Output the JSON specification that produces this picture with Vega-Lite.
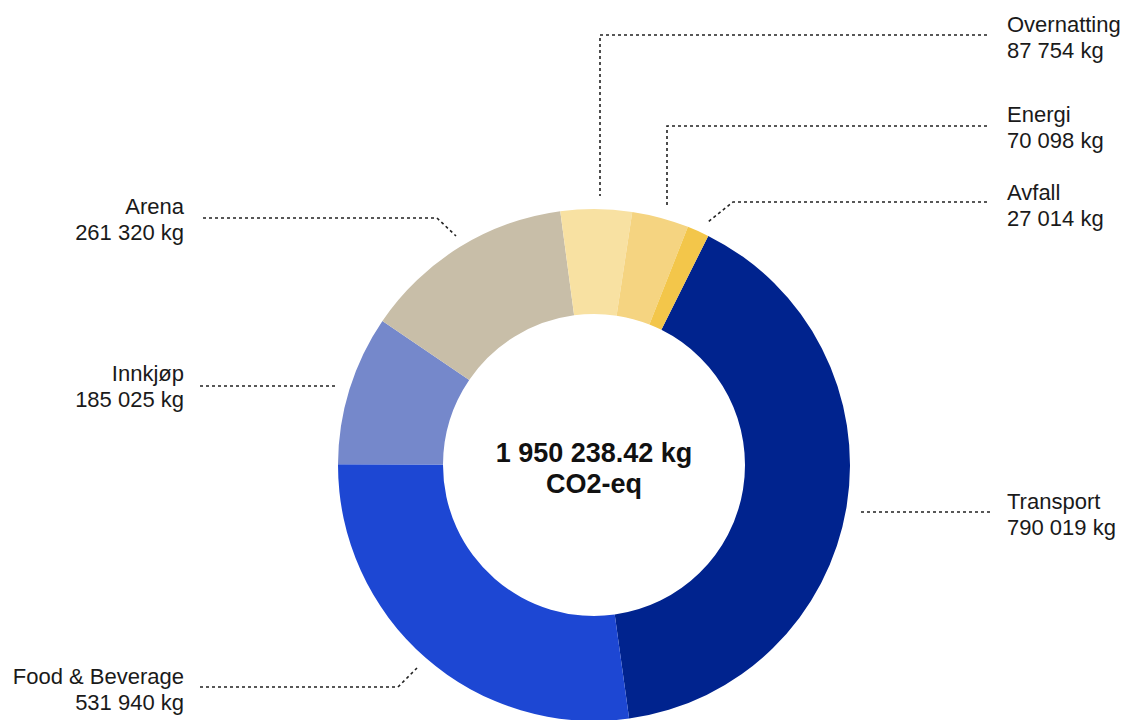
{
  "$schema": "https://vega.github.io/schema/vega-lite/v6.json",
  "width": 1126,
  "height": 720,
  "padding": 0,
  "autosize": {"type": "none"},
  "background": "white",
  "config": {"view": {"stroke": null}, "font": "Liberation Sans"},
  "datasets": {
    "emissions": [
      {"category": "Transport", "kg": 790019, "order": 1},
      {"category": "Food & Beverage", "kg": 531940, "order": 2},
      {"category": "Innkjøp", "kg": 185025, "order": 3},
      {"category": "Arena", "kg": 261320, "order": 4},
      {"category": "Overnatting", "kg": 87754, "order": 5},
      {"category": "Energi", "kg": 70098, "order": 6},
      {"category": "Avfall", "kg": 27014, "order": 7}
    ],
    "labels": [
      {"category": "Overnatting", "lines": ["Overnatting", "87 754 kg"], "side": "right", "lx": 1007, "ly": 24.5},
      {"category": "Energi", "lines": ["Energi", "70 098 kg"], "side": "right", "lx": 1007, "ly": 115},
      {"category": "Avfall", "lines": ["Avfall", "27 014 kg"], "side": "right", "lx": 1007, "ly": 192.5},
      {"category": "Transport", "lines": ["Transport", "790 019 kg"], "side": "right", "lx": 1007, "ly": 502},
      {"category": "Arena", "lines": ["Arena", "261 320 kg"], "side": "left", "lx": 184, "ly": 206.5},
      {"category": "Innkjøp", "lines": ["Innkjøp", "185 025 kg"], "side": "left", "lx": 184, "ly": 374},
      {"category": "Food & Beverage", "lines": ["Food & Beverage", "531 940 kg"], "side": "left", "lx": 184, "ly": 677}
    ],
    "leaders": [
      {"category": "Overnatting", "seq": 1, "px": 987, "py": 35},
      {"category": "Overnatting", "seq": 2, "px": 600, "py": 35},
      {"category": "Overnatting", "seq": 3, "px": 600, "py": 196},
      {"category": "Energi", "seq": 1, "px": 987, "py": 126},
      {"category": "Energi", "seq": 2, "px": 667, "py": 126},
      {"category": "Energi", "seq": 3, "px": 667, "py": 207},
      {"category": "Avfall", "seq": 1, "px": 987, "py": 202},
      {"category": "Avfall", "seq": 2, "px": 733, "py": 202},
      {"category": "Avfall", "seq": 3, "px": 708, "py": 222},
      {"category": "Transport", "seq": 1, "px": 861, "py": 512},
      {"category": "Transport", "seq": 2, "px": 990, "py": 512},
      {"category": "Arena", "seq": 1, "px": 203, "py": 218},
      {"category": "Arena", "seq": 2, "px": 437, "py": 218},
      {"category": "Arena", "seq": 3, "px": 456, "py": 236},
      {"category": "Innkjøp", "seq": 1, "px": 200, "py": 386},
      {"category": "Innkjøp", "seq": 2, "px": 338, "py": 386},
      {"category": "Food & Beverage", "seq": 1, "px": 200, "py": 687},
      {"category": "Food & Beverage", "seq": 2, "px": 398, "py": 687},
      {"category": "Food & Beverage", "seq": 3, "px": 417, "py": 668}
    ],
    "total": [
      {"lines": ["1 950 238.42 kg", "CO2-eq"], "cx": 594, "cy": 454}
    ]
  },
  "layer": [
    {
      "data": {"name": "emissions"},
      "mark": {"type": "arc", "outerRadius": 256, "innerRadius": 151},
      "encoding": {
        "x": {"datum": 594, "type": "quantitative", "scale": {"domain": [0, 1126], "nice": false, "zero": false}, "axis": null},
        "y": {"datum": 465, "type": "quantitative", "scale": {"domain": [0, 720], "nice": false, "zero": false, "reverse": true}, "axis": null},
        "theta": {"field": "kg", "type": "quantitative", "stack": true, "scale": {"range": [0.4625, 6.7457]}},
        "order": {"field": "order", "type": "quantitative"},
        "color": {
          "field": "category",
          "type": "nominal",
          "legend": null,
          "scale": {
            "domain": ["Transport", "Food & Beverage", "Innkjøp", "Arena", "Overnatting", "Energi", "Avfall"],
            "range": ["#00238E", "#1D47D3", "#7588CB", "#C8BEA8", "#F8E1A2", "#F5D481", "#F3C64A"]
          }
        }
      }
    },
    {
      "data": {"name": "leaders"},
      "mark": {"type": "line", "strokeDash": [3, 3], "strokeWidth": 1.6, "color": "#222222"},
      "encoding": {
        "x": {"field": "px", "type": "quantitative"},
        "y": {"field": "py", "type": "quantitative"},
        "detail": {"field": "category"},
        "order": {"field": "seq", "type": "quantitative"}
      }
    },
    {
      "data": {"name": "labels"},
      "transform": [{"filter": "datum.side === 'right'"}],
      "mark": {"type": "text", "align": "left", "baseline": "middle", "fontSize": 22, "lineHeight": 26, "color": "#1a1a1a"},
      "encoding": {
        "x": {"field": "lx", "type": "quantitative"},
        "y": {"field": "ly", "type": "quantitative"},
        "text": {"field": "lines"}
      }
    },
    {
      "data": {"name": "labels"},
      "transform": [{"filter": "datum.side === 'left'"}],
      "mark": {"type": "text", "align": "right", "baseline": "middle", "fontSize": 22, "lineHeight": 26, "color": "#1a1a1a"},
      "encoding": {
        "x": {"field": "lx", "type": "quantitative"},
        "y": {"field": "ly", "type": "quantitative"},
        "text": {"field": "lines"}
      }
    },
    {
      "data": {"name": "total"},
      "mark": {"type": "text", "align": "center", "baseline": "middle", "fontSize": 27, "fontWeight": "bold", "lineHeight": 31, "color": "#111111"},
      "encoding": {
        "x": {"field": "cx", "type": "quantitative"},
        "y": {"field": "cy", "type": "quantitative"},
        "text": {"field": "lines"}
      }
    }
  ]
}
